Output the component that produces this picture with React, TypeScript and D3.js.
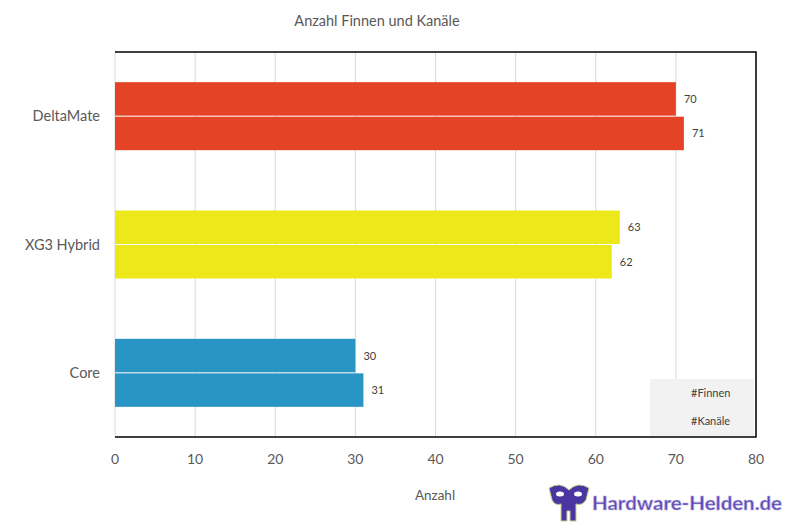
import React from "react";
import * as d3 from "d3";

const categories = ["DeltaMate", "XG3 Hybrid", "Core"];
const finnen = [70, 63, 30];
const kanaele = [71, 62, 31];
const barColors = ["#E44326", "#ECE81A", "#2995C4"];
const xTicks = [0, 10, 20, 30, 40, 50, 60, 70, 80];
const legendLabels = ["#Finnen", "#Kanäle"];

const W = 794;
const H = 531;
const plot = { left: 115, top: 52, right: 756, bottom: 437 };
const font = "Lato, 'Open Sans', sans-serif";

const App = () => {
  const x = d3.scaleLinear().domain([0, 80]).range([plot.left, plot.right]);
  const y = d3.scaleBand<string>().domain(categories).range([plot.top, plot.bottom]).paddingInner(0.47).paddingOuter(0.235);
  const sub = d3.scaleBand<number>().domain([0, 1]).range([0, y.bandwidth()]).paddingInner(0.03);

  const rows = categories.map((c, i) => ({ cat: c, vals: [finnen[i], kanaele[i]], color: barColors[i] }));

  return (
    <svg width={W} height={H} style={{ position: "absolute", left: 0, top: 0 }}>
      <rect width={W} height={H} fill="#fff" />
      <text x={377} y={26} textAnchor="middle" fontFamily={font} fontSize={14.5} fill="#595959">
        Anzahl Finnen und Kanäle
      </text>

      {xTicks.map((t) => (
        <line key={t} x1={x(t)} x2={x(t)} y1={plot.top} y2={plot.bottom} stroke="#d9d9d9" strokeWidth={1} />
      ))}

      {rows.map((r) => (
        <g key={r.cat}>
          {r.vals.map((v, j) => {
            const yy = (y(r.cat) as number) + (sub(j) as number);
            return (
              <g key={j}>
                <rect x={x(0)} y={yy} width={x(v) - x(0)} height={sub.bandwidth()} fill={r.color} />
                <text x={x(v) + 8} y={yy + sub.bandwidth() / 2 + 4} fontFamily={font} fontSize={11} fill="#404040">
                  {v}
                </text>
              </g>
            );
          })}
          <text
            x={100}
            y={(y(r.cat) as number) + y.bandwidth() / 2 + 5}
            textAnchor="end"
            fontFamily={font}
            fontSize={14.5}
            fill="#595959"
          >
            {r.cat}
          </text>
        </g>
      ))}

      <path
        d={`M${plot.left},${plot.top}H${plot.right}V${plot.bottom}H${plot.left}`}
        fill="none"
        stroke="#000"
        strokeWidth={1.5}
      />

      {xTicks.map((t) => (
        <text key={t} x={x(t)} y={464} textAnchor="middle" fontFamily={font} fontSize={14} fill="#595959">
          {t}
        </text>
      ))}

      <text x={435} y={500} textAnchor="middle" fontFamily={font} fontSize={13.5} fill="#595959">
        Anzahl
      </text>

      <rect x={650} y={379} width={104} height={57} fill="#f2f2f2" />
      {legendLabels.map((l, i) => (
        <text key={l} x={691} y={397 + i * 28} fontFamily={font} fontSize={11} fill="#404040">
          {l}
        </text>
      ))}

      <g>
        <path
          d="M549,488 Q560,481 569,490 Q578,481 589,488 L586,500 Q582,506 576,504 L576,521 L570,521 L570,511 L567,511 L567,521 L561,521 L561,504 Q555,506 552,500 Z"
          fill="#4a36a0"
          stroke="#c8d08a"
          strokeWidth={1}
        />
        <ellipse cx={560} cy={494} rx={4} ry={2.5} fill="#fff" />
        <ellipse cx={578} cy={494} rx={4} ry={2.5} fill="#fff" />
        <text
          x={592}
          y={510}
          fontFamily={font}
          fontWeight="bold"
          fontSize={18}
          textLength={190}
          lengthAdjust="spacingAndGlyphs"
          fill="#5b42b0"
          stroke="#b9b3e0"
          strokeWidth={0.6}
        >
          Hardware-Helden.de
        </text>
      </g>
    </svg>
  );
};

export default App;
